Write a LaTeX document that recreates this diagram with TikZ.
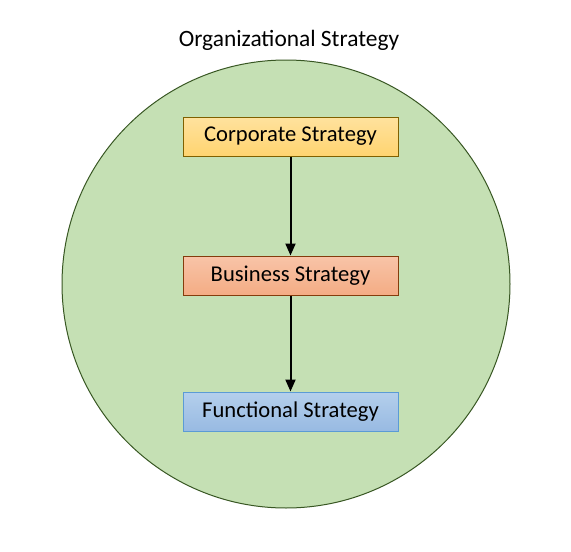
\documentclass[tikz,border=0pt]{standalone}
\usepackage{fontspec}
\setmainfont{Carlito}
\usepackage{tikz}
\usetikzlibrary{positioning}
\usetikzlibrary{arrows.meta}

\definecolor{orggreen}{HTML}{C5E0B4}
\definecolor{orgline}{HTML}{385723}
\definecolor{corptop}{HTML}{FFE29E}
\definecolor{corpbot}{HTML}{FFD470}
\definecolor{corpline}{HTML}{7F6000}
\definecolor{bustop}{HTML}{F8C4A8}
\definecolor{busbot}{HTML}{F4AC84}
\definecolor{busline}{HTML}{843C0C}
\definecolor{functop}{HTML}{B4CFEC}
\definecolor{funcbot}{HTML}{98BAE2}
\definecolor{funcline}{HTML}{5B9BD5}

\begin{document}
\begin{tikzpicture}[
            x=1pt, y=-1pt,
            corp/.style={rectangle, draw=corpline, top color=corptop, bottom color=corpbot, line width=1pt, minimum width=215pt, minimum height=39pt, font=\fontsize{22.6}{27}\selectfont},
            bus/.style={rectangle, draw=busline, top color=bustop, bottom color=busbot, line width=1pt, minimum width=215pt, minimum height=39pt, font=\fontsize{22.6}{27}\selectfont},
            func/.style={rectangle, draw=funcline, top color=functop, bottom color=funcbot, line width=1pt, minimum width=215pt, minimum height=39pt, font=\fontsize{22.6}{27}\selectfont},
            flow/.style={-{Triangle[width=10pt,length=12pt]}, line width=2pt, black}
        ]
            \useasboundingbox (0,0) rectangle (571,552);
            \draw[fill=orggreen, draw=orgline, line width=1pt] (286,284) circle[radius=224pt];
            \node[font=\fontsize{23.4}{28}\selectfont](org) at (289,40){Organizational Strategy};
            \node[corp](cs) at (290.5,136.5){Corporate Strategy};
                \node[bus](bs)[below=99pt of cs]{Business Strategy};
                    \node[func](fs)[below=96pt of bs]{Functional Strategy};

            \draw[flow] (cs.south) -- (bs.north);
            \draw[flow] (bs.south) -- (fs.north);
        \end{tikzpicture}
\end{document}
